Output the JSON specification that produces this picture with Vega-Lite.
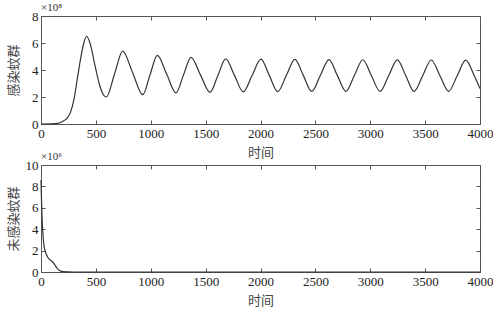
{
  "$schema": "https://vega.github.io/schema/vega-lite/v6.json",
  "background": "white",
  "padding": {"left": 6, "top": 1, "right": 2, "bottom": 2},
  "bounds": "flush",
  "spacing": 41,
  "config": {
    "view": {"stroke": "#555", "strokeWidth": 1},
    "axis": {
      "domain": false, "grid": false, "tickSize": -4, "tickColor": "#555", "labelFlush": false, "labelOverlap": false,
      "labelFont": "Liberation Serif", "labelFontSize": 13, "labelColor": "#222", "format": "d",
      "titleFont": "Noto Sans CJK SC", "titleFontSize": 13, "titleFontWeight": "normal", "titleColor": "#444"
    },
    "title": {"font": "Liberation Serif", "fontSize": 11, "fontWeight": "normal", "color": "#333", "anchor": "start", "frame": "group", "offset": -3}
  },
  "datasets": {
    "infected": [
      {"t": 0, "v": 0}, {"t": 100, "v": 0.01}, {"t": 150, "v": 0.04}, {"t": 200, "v": 0.2},
      {"t": 240, "v": 0.45}, {"t": 270, "v": 0.9}, {"t": 300, "v": 1.8}, {"t": 330, "v": 3.3},
      {"t": 360, "v": 4.8}, {"t": 390, "v": 6.0}, {"t": 416, "v": 6.5}, {"t": 450, "v": 5.9},
      {"t": 490, "v": 4.4}, {"t": 530, "v": 3.0}, {"t": 560, "v": 2.3}, {"t": 595, "v": 2.0},
      {"t": 670, "v": 3.7}, {"t": 744, "v": 5.4}, {"t": 835, "v": 3.8}, {"t": 927, "v": 2.17},
      {"t": 993, "v": 3.63}, {"t": 1060, "v": 5.09}, {"t": 1145, "v": 3.7}, {"t": 1230, "v": 2.3},
      {"t": 1298, "v": 3.62}, {"t": 1367, "v": 4.94}, {"t": 1453, "v": 3.64}, {"t": 1540, "v": 2.35},
      {"t": 1611, "v": 3.58}, {"t": 1683, "v": 4.82}, {"t": 1763, "v": 3.6}, {"t": 1843, "v": 2.38},
      {"t": 1923, "v": 3.59}, {"t": 2004, "v": 4.8}, {"t": 2080, "v": 3.6}, {"t": 2157, "v": 2.4},
      {"t": 2235, "v": 3.59}, {"t": 2314, "v": 4.78}, {"t": 2390, "v": 3.6}, {"t": 2467, "v": 2.41},
      {"t": 2545, "v": 3.59}, {"t": 2624, "v": 4.77}, {"t": 2700, "v": 3.6}, {"t": 2778, "v": 2.42},
      {"t": 2855, "v": 3.59}, {"t": 2933, "v": 4.76}, {"t": 3010, "v": 3.59}, {"t": 3090, "v": 2.42},
      {"t": 3168, "v": 3.58}, {"t": 3247, "v": 4.75}, {"t": 3323, "v": 3.59}, {"t": 3400, "v": 2.42},
      {"t": 3478, "v": 3.58}, {"t": 3556, "v": 4.74}, {"t": 3635, "v": 3.58}, {"t": 3714, "v": 2.42},
      {"t": 3792, "v": 3.57}, {"t": 3870, "v": 4.73}, {"t": 3948, "v": 3.57}, {"t": 4000, "v": 2.62}
    ],
    "uninfected": [
      {"t": 0, "v": 8.6}, {"t": 5, "v": 6.5}, {"t": 10, "v": 5.0}, {"t": 20, "v": 3.2},
      {"t": 30, "v": 2.3}, {"t": 40, "v": 1.9}, {"t": 60, "v": 1.4}, {"t": 80, "v": 1.15},
      {"t": 100, "v": 1.0}, {"t": 120, "v": 0.75}, {"t": 140, "v": 0.45}, {"t": 160, "v": 0.2},
      {"t": 180, "v": 0.08}, {"t": 200, "v": 0.03}, {"t": 250, "v": 0.01}, {"t": 300, "v": 0},
      {"t": 4000, "v": 0}
    ]
  },
  "vconcat": [
    {
      "width": 439, "height": 108,
      "title": {"text": "×10⁸"},
      "data": {"name": "infected"},
      "layer": [
        {
          "mark": {"type": "line", "color": "#333", "strokeWidth": 1.2, "interpolate": "monotone"},
          "encoding": {
            "x": {"field": "t", "type": "quantitative", "scale": {"domain": [0, 4000], "nice": false},
                  "axis": {"values": [0, 500, 1000, 1500, 2000, 2500, 3000, 3500, 4000], "title": "时间", "titlePadding": 6, "labelPadding": 7}},
            "y": {"field": "v", "type": "quantitative", "scale": {"domain": [0, 8], "nice": false},
                  "axis": {"values": [0, 2, 4, 6, 8], "title": "感染蚊群", "titlePadding": 11, "labelPadding": 7}}
          }
        },
        {
          "mark": {"type": "line", "opacity": 0},
          "encoding": {
            "x": {"field": "t", "type": "quantitative", "axis": {"orient": "top", "values": [0, 500, 1000, 1500, 2000, 2500, 3000, 3500, 4000], "labels": false, "title": null}},
            "y": {"field": "v", "type": "quantitative", "axis": {"orient": "right", "values": [0, 2, 4, 6, 8], "labels": false, "title": null}}
          }
        }
      ],
      "resolve": {"axis": {"x": "independent", "y": "independent"}}
    },
    {
      "width": 439, "height": 107,
      "title": {"text": "×10⁶"},
      "data": {"name": "uninfected"},
      "layer": [
        {
          "mark": {"type": "line", "color": "#333", "strokeWidth": 1.2, "interpolate": "monotone"},
          "encoding": {
            "x": {"field": "t", "type": "quantitative", "scale": {"domain": [0, 4000], "nice": false},
                  "axis": {"values": [0, 500, 1000, 1500, 2000, 2500, 3000, 3500, 4000], "title": "时间", "titlePadding": 6, "labelPadding": 7}},
            "y": {"field": "v", "type": "quantitative", "scale": {"domain": [0, 10], "nice": false},
                  "axis": {"values": [0, 2, 4, 6, 8, 10], "title": "未感染蚊群", "titlePadding": 5, "labelPadding": 7}}
          }
        },
        {
          "mark": {"type": "line", "opacity": 0},
          "encoding": {
            "x": {"field": "t", "type": "quantitative", "axis": {"orient": "top", "values": [0, 500, 1000, 1500, 2000, 2500, 3000, 3500, 4000], "labels": false, "title": null}},
            "y": {"field": "v", "type": "quantitative", "axis": {"orient": "right", "values": [0, 2, 4, 6, 8, 10], "labels": false, "title": null}}
          }
        }
      ],
      "resolve": {"axis": {"x": "independent", "y": "independent"}}
    }
  ]
}
